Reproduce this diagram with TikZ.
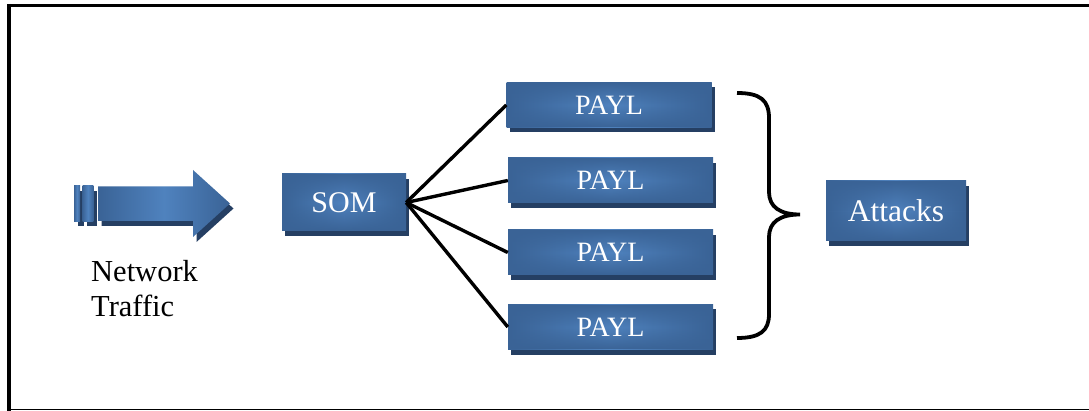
\documentclass[tikz,border=0pt]{standalone}
\usepackage{fontspec}
\setmainfont{Liberation Serif}
\usetikzlibrary{shadows,fadings}

\definecolor{boxedge}{HTML}{3A6396}
\definecolor{boxmid}{HTML}{4F82BE}
\definecolor{boxshade}{HTML}{253F63}

\tikzfading[name=edgeglow, top color=transparent!0, bottom color=transparent!0,
  middle color=transparent!100]

\tikzset{
  blockbox/.style={rectangle, inner sep=0pt, text=white,
    left color=boxedge, right color=boxedge, middle color=boxmid,
    drop shadow={shadow xshift=3pt, shadow yshift=-5pt, fill=boxshade, opacity=1},
    path picture={\fill[boxedge, path fading=edgeglow, fit fading=true]
      (path picture bounding box.south west) rectangle (path picture bounding box.north east);}},
  paylbox/.style={blockbox, minimum width=205pt, minimum height=45pt,
    font=\fontsize{28}{33}\selectfont},
  bigbox/.style={blockbox, font=\fontsize{30}{36}\selectfont},
  link/.style={draw=black, line width=3.4pt},
  bracepath/.style={draw=black, line width=3.8pt},
  frameline/.style={draw=black},
  arrowshade/.style={fill=boxshade},
  arrowbody/.style={left color=boxedge, right color=boxedge, middle color=boxmid},
}

\begin{document}
\begin{tikzpicture}[x=1pt,y=-1pt]
  \useasboundingbox (0,0) rectangle (1089,411);

  % outer frame
  \draw[frameline, line width=4pt] (9,4) -- (9,411);
  \draw[frameline, line width=3pt] (7,5.5) -- (1089,5.5);
  \draw[frameline, line width=1.3pt] (9,409.8) -- (1089,409.8);

  % input arrow: two short bars and a block arrow, each with a dark shadow
  \fill[arrowshade] (78,191) rectangle (84,226.5);
  \fill[arrowshade] (86.5,191) rectangle (97,226.5);
  \fill[arrowshade] (101.5,191.5) -- (196.5,191.5) -- (196.5,175) -- (233.5,208.5)
        -- (196.5,242) -- (196.5,226) -- (101.5,226) -- cycle;
  \shade[arrowbody] (74,186) rectangle (80,221.5);
  \shade[arrowbody] (82.5,186) rectangle (93.3,221.5);
  \shade[arrowbody] (98,186.5) -- (193,186.5) -- (193,170) -- (230,203.5)
        -- (193,237) -- (193,221) -- (98,221) -- cycle;

  \node[anchor=base west, align=left, inner sep=0pt,
        font=\fontsize{30.5}{35}\selectfont] (traffic) at (91,316.7) {Network\\Traffic};

  % classifier stages
  \node[bigbox, minimum width=124pt, minimum height=57pt] (som) at (344,202.5) {SOM};
  \node[paylbox] (p1) at (609,105) {PAYL};
  \node[paylbox] (p2) at (610.5,180.5) {PAYL};
  \node[paylbox] (p3) at (610.5,252.5) {PAYL};
  \node[paylbox] (p4) at (610.5,327) {PAYL};
  \node[bigbox, minimum width=140pt, minimum height=60pt,
        font=\fontsize{31.5}{38}\selectfont] (attacks) at (896,211) {Attacks};

  \draw[link] (som.east) -- (p1.west);
  \draw[link] (som.east) -- (p2.west);
  \draw[link] (som.east) -- (p3.west);
  \draw[link] (som.east) -- (p4.west);

  % curly brace gathering the PAYL outputs
  \coordinate (bracetip) at (800,214.5);
  \draw[bracepath] (737,93) .. controls (760,93) and (769,100) .. (769,118)
        -- (769,192) .. controls (769,207) and (780,214.5) .. (bracetip)
        .. controls (780,214.5) and (769,222) .. (769,237)
        -- (769,314) .. controls (769,331) and (760,338) .. (737,338);
\end{tikzpicture}
\end{document}
